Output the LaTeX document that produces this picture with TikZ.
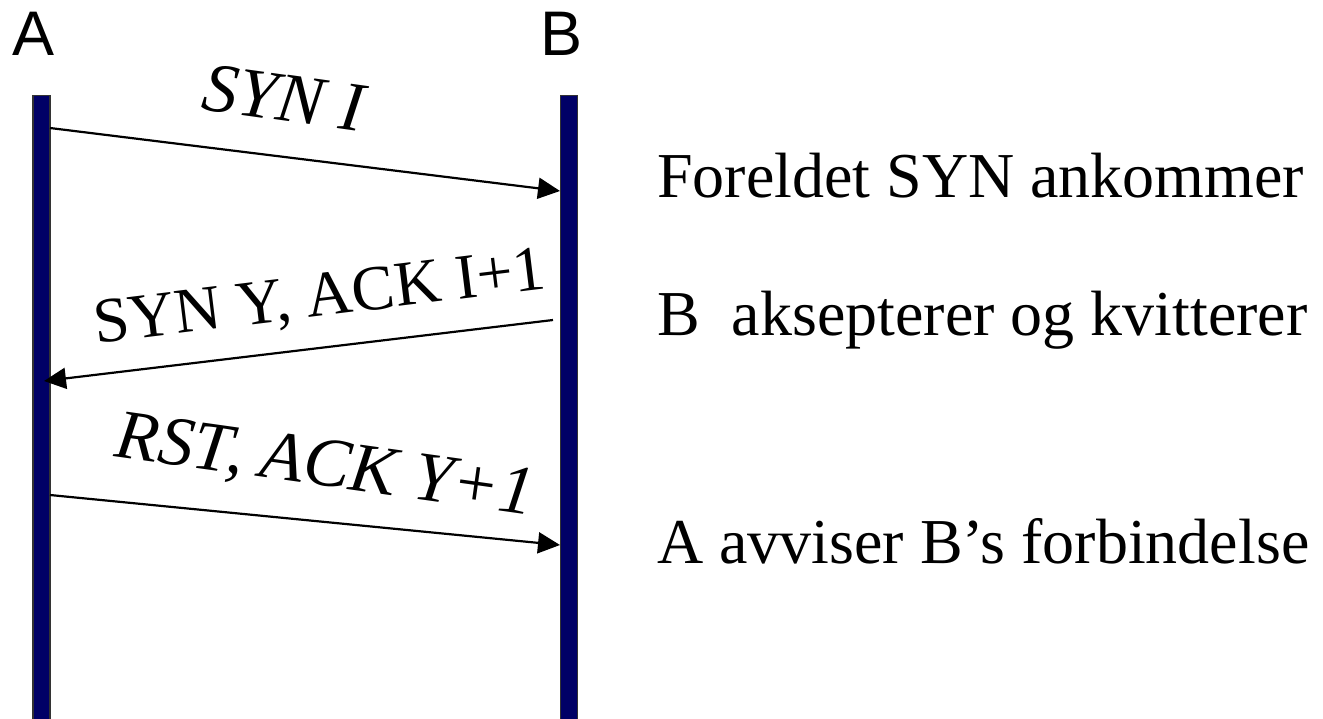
\documentclass[tikz,border=0pt]{standalone}
\usepackage{fontspec}
\setmainfont{Liberation Serif}
\newfontfamily\headfont{Liberation Sans}
\usetikzlibrary{arrows.meta}
\definecolor{barblue}{RGB}{0,0,102}
\begin{document}
\begin{tikzpicture}[x=1pt,y=-1pt,
  lifeline/.style={draw=black!80,line width=1.2pt,fill=barblue,minimum width=17pt,minimum height=640pt,inner sep=0pt,anchor=north},
  party/.style={font=\headfont\fontsize{63}{70}\selectfont,anchor=base,inner sep=0pt},
  msg/.style={line width=2.2pt,-{Triangle[length=22pt,width=21pt]}},
  msglabel/.style={inner sep=0pt,font=\fontsize{64}{72}\selectfont},
  msgitalic/.style={inner sep=0pt,font=\itshape\fontsize{70}{78}\selectfont},
  note/.style={anchor=base west,inner sep=0pt,font=\fontsize{64}{72}\selectfont}]
\useasboundingbox (0,0) rectangle (1323,718);

% the two lifelines
\node[lifeline] (barA) at (41.5,95) {};
\node[lifeline] (barB) at (569,95) {};
\node[party] (nameA) at (34,55) {A};
\node[party] (nameB) at (561.5,55) {B};

% message end points on the lifelines
\coordinate (s1) at (50,128);
\coordinate (e1) at (560,191);
\coordinate (s2) at (553,320);
\coordinate (e2) at (44,381);
\coordinate (s3) at (50,495);
\coordinate (e3) at (560,545);

\draw[msg] (s1) -- (e1);
\draw[msg] (s2) -- (e2);
\draw[msg] (s3) -- (e3);

% message labels
\node[msgitalic,rotate=-8] (l1) at (284,98) {SYN I};
\node[msglabel,rotate=7] (l2) at (320,300) {SYN Y, ACK I+1};
\node[msgitalic,rotate=-8] (l3) at (325,468) {RST, ACK Y+1};

% remarks to the right
\node[note] (n1) at (657,197) {Foreldet SYN ankommer};
\node[note] (n2) at (657,335) {B\ \ aksepterer og kvitterer};
\node[note] (n3) at (657,563) {A avviser B’s forbindelse};
\end{tikzpicture}
\end{document}
